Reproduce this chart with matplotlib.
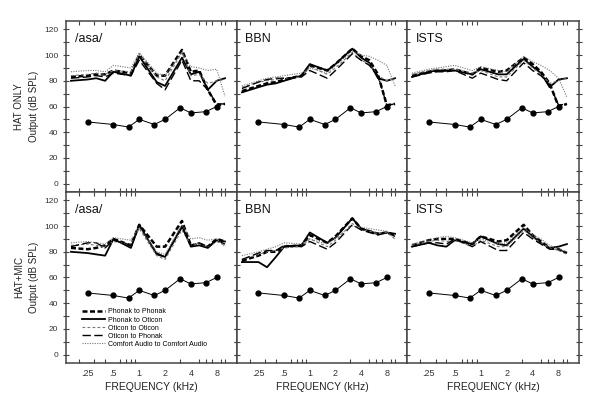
import numpy as np
import matplotlib
matplotlib.use('Agg')
import matplotlib.pyplot as plt
from matplotlib.ticker import FixedLocator, NullFormatter

plt.rcParams['font.family'] = ['Liberation Sans', 'DejaVu Sans']

# ── Dados ─────────────────────────────────────────────────────────────────
freqs = [0.16, 0.25, 0.315, 0.4, 0.5, 0.8, 1.0, 1.6, 2.0, 3.15, 4.0, 5.0, 6.3, 8.0, 10.0]

noise_freqs = [0.25, 0.5, 0.75, 1.0, 1.5, 2.0, 3.0, 4.0, 6.0, 8.0]
noise_vals  = [48, 46, 44, 50, 46, 50, 59, 55, 56, 60]

series_names = ['Phonak to Phonak', 'Phonak to Oticon', 'Oticon to Oticon',
                'Oticon to Phonak', 'Comfort Audio to Comfort Audio']
stimuli   = ['/asa/', 'BBN', 'ISTS']
conditions = ['HAT ONLY', 'HAT+MIC']

# HAT ONLY
asa_hat = [
    [83, 84, 85, 85, 88, 86, 100, 84, 84, 104, 87, 88, 73, 61, 62],
    [80, 81, 82, 80, 87, 84, 99, 79, 76, 98, 85, 87, 73, 80, 82],
    [84, 85, 86, 85, 88, 87, 101, 83, 80, 102, 84, 85, 78, 80, 81],
    [82, 83, 84, 83, 86, 84, 96, 78, 73, 96, 80, 80, 73, 62, 62],
    [87, 88, 88, 87, 92, 90, 102, 86, 84, 102, 91, 90, 88, 89, 68],
]
bbn_hat = [
    [72, 76, 78, 79, 81, 84, 92, 88, 93, 105, 99, 96, 85, 61, 62],
    [71, 75, 77, 78, 80, 84, 93, 88, 93, 105, 98, 94, 82, 80, 82],
    [75, 79, 80, 81, 82, 83, 91, 85, 90, 102, 96, 93, 84, 80, 82],
    [74, 79, 81, 82, 82, 83, 88, 82, 88, 101, 96, 92, 84, 61, 62],
    [76, 80, 82, 83, 84, 86, 90, 86, 92, 103, 100, 99, 96, 92, 76],
]
ists_hat = [
    [84, 87, 88, 88, 89, 85, 90, 87, 88, 98, 93, 87, 78, 60, 62],
    [83, 87, 88, 88, 88, 85, 89, 85, 85, 97, 91, 86, 75, 81, 82],
    [85, 88, 89, 89, 89, 86, 88, 83, 83, 96, 90, 85, 78, 80, 82],
    [83, 86, 87, 87, 88, 82, 86, 81, 80, 94, 88, 84, 77, 61, 62],
    [86, 89, 90, 91, 92, 88, 91, 88, 87, 99, 95, 92, 88, 82, 67],
]
# HAT+MIC
asa_mic = [
    [83, 82, 83, 85, 90, 85, 101, 84, 84, 104, 85, 86, 84, 90, 88],
    [80, 79, 78, 77, 90, 83, 101, 78, 76, 100, 84, 85, 83, 89, 88],
    [85, 86, 85, 84, 88, 86, 98, 77, 74, 97, 85, 86, 84, 88, 85],
    [84, 87, 87, 83, 89, 85, 100, 79, 76, 99, 85, 87, 84, 89, 86],
    [87, 88, 87, 86, 91, 89, 99, 80, 78, 101, 90, 91, 89, 90, 84],
]
bbn_mic = [
    [73, 77, 80, 80, 84, 85, 93, 87, 92, 106, 98, 96, 94, 95, 93],
    [72, 72, 68, 76, 84, 85, 95, 87, 91, 106, 98, 96, 94, 95, 94],
    [74, 78, 80, 81, 83, 84, 90, 84, 89, 102, 97, 96, 94, 95, 90],
    [74, 79, 81, 81, 85, 84, 88, 82, 87, 101, 97, 95, 93, 95, 92],
    [77, 80, 82, 84, 87, 86, 90, 86, 91, 100, 99, 98, 97, 96, 90],
]
ists_mic = [
    [85, 89, 90, 90, 90, 86, 92, 88, 89, 101, 93, 88, 83, 82, 79],
    [84, 87, 85, 84, 89, 86, 92, 86, 85, 98, 92, 87, 83, 84, 86],
    [85, 88, 89, 88, 89, 84, 89, 84, 84, 97, 91, 87, 83, 81, 78],
    [84, 87, 87, 86, 90, 84, 88, 81, 81, 95, 90, 86, 82, 82, 79],
    [86, 89, 91, 92, 91, 87, 90, 86, 87, 99, 93, 90, 85, 82, 80],
]

panels = [[asa_hat, bbn_hat, ists_hat], [asa_mic, bbn_mic, ists_mic]]

styles = [
    dict(color='black',   linestyle=(0, (2, 1)),   linewidth=1.8),
    dict(color='black',   linestyle='-',           linewidth=1.3),
    dict(color='#777777', linestyle=(0, (2.5, 2)), linewidth=0.8),
    dict(color='black',   linestyle=(0, (6, 2.5)), linewidth=1.0),
    dict(color='#777777', linestyle=(0, (1, 1.2)), linewidth=0.8),
]

label_ticks  = [0.25, 0.5, 1, 2, 4, 8]
label_text   = ['.25', '.5', '1', '2', '4', '8']
minor_ticks  = [0.2, 0.3, 0.4, 0.5, 0.6, 0.7, 0.8, 0.9, 1, 2, 3, 4, 5, 6, 7, 8, 9, 10]

# ── Figura ────────────────────────────────────────────────────────────────
fig = plt.figure(figsize=(6.0, 4.08), dpi=100)
W, H = 600, 408
lefts   = [66, 237, 407]
widths  = [171, 170, 172]
tops    = [21, 192]
height  = 171
spine_c = '#444444'

for r in range(2):
    for c in range(3):
        ax = fig.add_axes([lefts[c] / W, 1 - (tops[r] + height) / H, widths[c] / W, height / H])
        data = panels[r][c]
        for vals, st, name in zip(data, styles, series_names):
            ax.plot(freqs, vals, label=name, **st)
        ax.plot(noise_freqs, noise_vals, color='black', linewidth=0.7,
                marker='o', markersize=3.5)

        ax.set_xscale('log')
        ax.set_xlim(0.14, 13.8)
        ax.set_ylim(-6.5, 126.5)

        ax.xaxis.set_major_locator(FixedLocator(label_ticks))
        ax.xaxis.set_minor_locator(FixedLocator(minor_ticks))
        ax.xaxis.set_minor_formatter(NullFormatter())
        ax.set_yticks(range(0, 121, 20))
        ax.set_yticks(range(0, 121, 10), minor=True)

        ax.tick_params(axis='x', which='major', length=0, labelsize=6.5,
                       labelcolor='#333333', pad=4)
        ax.tick_params(axis='x', which='minor', direction='in', length=3,
                       top=True, bottom=True, color=spine_c, width=0.8)
        ax.tick_params(axis='y', which='both', direction='inout', length=4,
                       left=True, right=True, color=spine_c, width=0.8,
                       labelsize=6, labelcolor='#333333')

        if r == 1:
            ax.set_xticklabels(label_text)
            ax.set_xlabel('FREQUENCY (kHz)', fontsize=7.5, color='#222222', labelpad=3)
        else:
            ax.set_xticklabels([])
        if c == 0:
            ax.set_ylabel(f'{conditions[r]}\nOutput (dB SPL)', fontsize=7,
                          color='#222222', linespacing=1.6, labelpad=4)
        else:
            ax.set_yticklabels([])

        for sp in ax.spines.values():
            sp.set_color(spine_c)
            sp.set_linewidth(1.1)

        ax.text(0.05, 0.93, stimuli[c], transform=ax.transAxes, fontsize=9,
                va='top', ha='left', color='#111111')

        if r == 1 and c == 0:
            ax.legend(loc='upper left', bbox_to_anchor=(0.08, 0.335), frameon=False,
                      fontsize=5, handlelength=3.2, labelspacing=0.15,
                      handletextpad=0.5, borderaxespad=0)

plt.savefig('out.png', dpi=100)
